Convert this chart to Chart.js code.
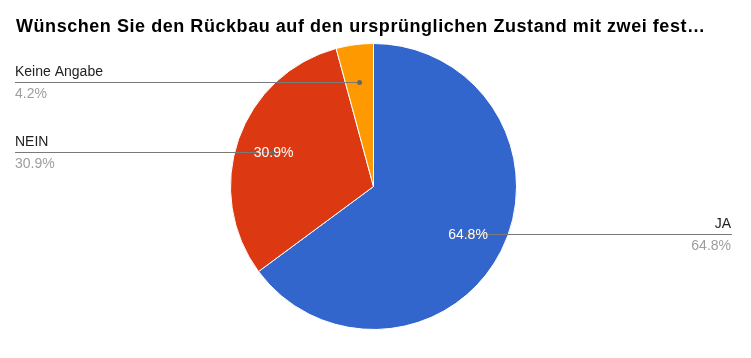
<!DOCTYPE html>
<html>
<head>
<meta charset="utf-8">
<script src="https://cdn.jsdelivr.net/npm/chart.js@4/dist/chart.umd.min.js"></script>
<style>
  html, body { margin: 0; padding: 0; background: #fff; }
  #wrap { position: relative; width: 751px; height: 358px; }
  #title { position: absolute; left: 16px; top: 17px; font: bold 18px "Liberation Sans", Arial, sans-serif; line-height: 18px; letter-spacing: 0.55px; color: #000; white-space: nowrap; }
  canvas { position: absolute; left: 0; top: 0; }
</style>
</head>
<body>
<div id="wrap">
  <canvas id="c" width="751" height="358"></canvas>
  <div id="title">Wünschen Sie den Rückbau auf den ursprünglichen Zustand mit zwei fest…</div>
</div>
<script>
const categories = ["JA", "NEIN", "Keine Angabe"];
const values = [64.8, 30.9, 4.2];
const percentLabels = ["64.8%", "30.9%", "4.2%"];
const colors = ["#3366CC", "#DC3912", "#FF9900"];

const FONT = '"Liberation Sans", Arial, sans-serif';

const labelPlugin = {
  id: 'googleLabels',
  afterDatasetsDraw(chart) {
    const ctx = chart.ctx;
    const meta = chart.getDatasetMeta(0);
    const total = values.reduce((a, b) => a + b, 0);
    ctx.save();
    meta.data.forEach((arc, i) => {
      const mid = (arc.startAngle + arc.endAngle) / 2;
      const r = arc.outerRadius * 0.74;
      const px = arc.x + Math.cos(mid) * r;
      const py = arc.y + Math.sin(mid) * r;
      const right = Math.cos(mid) > 0;
      const lineEnd = right ? 732 : 15;
      const ly = Math.round(py) + 0.5;
      // leader line
      ctx.strokeStyle = '#7a7a7a';
      ctx.lineWidth = 1;
      ctx.beginPath();
      ctx.moveTo(px, ly);
      ctx.lineTo(lineEnd, ly);
      ctx.stroke();
      ctx.fillStyle = '#666';
      ctx.beginPath();
      ctx.arc(px, ly, 2.5, 0, Math.PI * 2);
      ctx.fill();
      const pct = percentLabels[i];
      // outside labels
      ctx.font = '14px ' + FONT;
      ctx.textAlign = right ? 'right' : 'left';
      ctx.textBaseline = 'alphabetic';
      const tx = right ? 731 : 15;
      ctx.fillStyle = '#222222';
      ctx.fillText(categories[i], tx, Math.round(py) - 6);
      ctx.fillStyle = '#9e9e9e';
      ctx.fillText(pct, tx, Math.round(py) + 16);
      // inside labels for large slices
      if (values[i] / total > 0.1) {
        ctx.fillStyle = '#ffffff';
        ctx.textAlign = 'center';
        ctx.textBaseline = 'middle';
        ctx.fillText(pct, px, py + 1);
      }
    });
    ctx.restore();
  }
};

new Chart(document.getElementById('c'), {
  type: 'pie',
  data: {
    labels: categories,
    datasets: [{
      data: values,
      backgroundColor: colors,
      borderColor: '#ffffff',
      borderWidth: 1
    }]
  },
  options: {
    responsive: false,
    animation: false,
    layout: { padding: { left: 230, right: 234, top: 42, bottom: 27 } },
    plugins: {
      legend: { display: false },
      tooltip: { enabled: false },
      title: { display: false }
    }
  },
  plugins: [labelPlugin]
});
</script>
</body>
</html>
